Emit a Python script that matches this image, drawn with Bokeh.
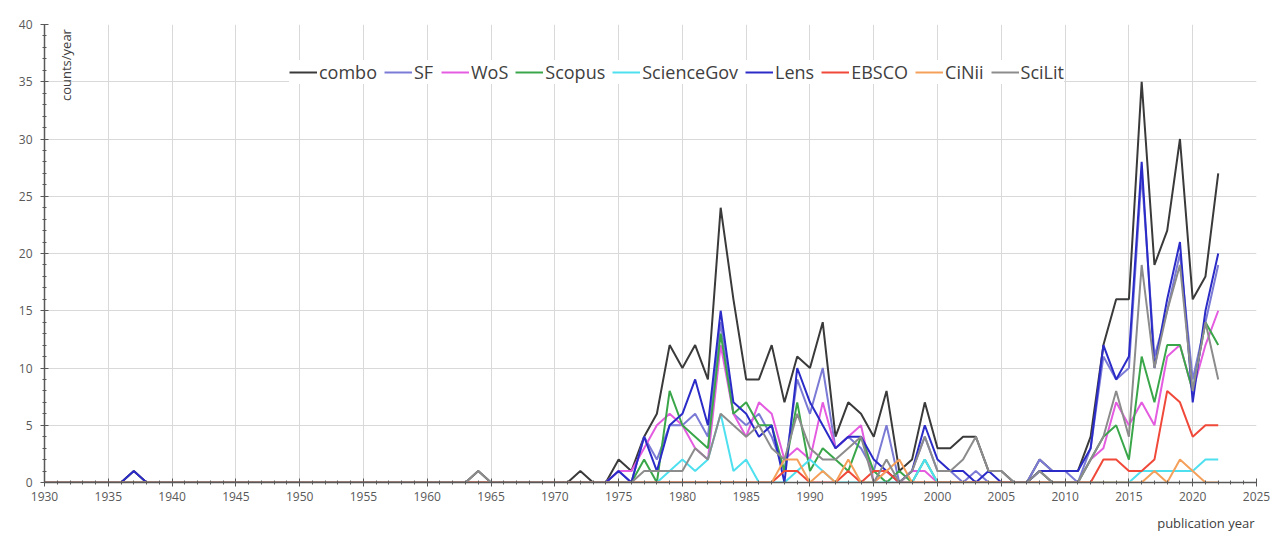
from math import pi
from bokeh.plotting import figure
from bokeh.models import FixedTicker, Label, Title
from bokeh.embed import file_html
from bokeh.resources import INLINE

years = list(range(1930, 2023))

combo = [
    0, 0, 0, 0, 0, 0, 0, 1, 0, 0,
    0, 0, 0, 0, 0, 0, 0, 0, 0, 0,
    0, 0, 0, 0, 0, 0, 0, 0, 0, 0,
    0, 0, 0, 0, 1, 0, 0, 0, 0, 0,
    0, 0, 1, 0, 0, 2, 1, 4, 6, 12,
    10, 12, 9, 24, 16, 9, 9, 12, 7, 11,
    10, 14, 4, 7, 6, 4, 8, 1, 2, 7,
    3, 3, 4, 4, 1, 1, 0, 0, 2, 1,
    1, 1, 4, 12, 16, 16, 35, 19, 22, 30,
    16, 18, 27]

sf = [
    0, 0, 0, 0, 0, 0, 0, 0, 0, 0,
    0, 0, 0, 0, 0, 0, 0, 0, 0, 0,
    0, 0, 0, 0, 0, 0, 0, 0, 0, 0,
    0, 0, 0, 0, 0, 0, 0, 0, 0, 0,
    0, 0, 0, 0, 0, 1, 0, 4, 2, 5,
    5, 6, 4, 14, 6, 5, 6, 4, 1, 9,
    6, 10, 3, 4, 3, 1, 5, 0, 1, 4,
    1, 1, 0, 1, 0, 0, 0, 0, 2, 1,
    1, 0, 3, 11, 9, 10, 27, 11, 15, 20,
    9, 14, 19]

wos = [
    0, 0, 0, 0, 0, 0, 0, 0, 0, 0,
    0, 0, 0, 0, 0, 0, 0, 0, 0, 0,
    0, 0, 0, 0, 0, 0, 0, 0, 0, 0,
    0, 0, 0, 0, 0, 0, 0, 0, 0, 0,
    0, 0, 0, 0, 0, 1, 1, 3, 5, 6,
    5, 3, 2, 12, 6, 4, 7, 6, 2, 3,
    2, 7, 3, 4, 5, 0, 1, 0, 1, 1,
    0, 0, 0, 0, 0, 0, 0, 0, 1, 0,
    0, 0, 2, 3, 7, 5, 7, 5, 11, 12,
    8, 12, 15]

scopus = [
    0, 0, 0, 0, 0, 0, 0, 0, 0, 0,
    0, 0, 0, 0, 0, 0, 0, 0, 0, 0,
    0, 0, 0, 0, 0, 0, 0, 0, 0, 0,
    0, 0, 0, 0, 0, 0, 0, 0, 0, 0,
    0, 0, 0, 0, 0, 0, 0, 2, 0, 8,
    5, 4, 3, 13, 6, 7, 5, 5, 1, 7,
    1, 3, 2, 1, 4, 1, 0, 1, 0, 2,
    0, 0, 0, 0, 0, 0, 0, 0, 1, 0,
    0, 0, 2, 4, 5, 2, 11, 7, 12, 12,
    8, 14, 12]

sciencegov = [
    0, 0, 0, 0, 0, 0, 0, 0, 0, 0,
    0, 0, 0, 0, 0, 0, 0, 0, 0, 0,
    0, 0, 0, 0, 0, 0, 0, 0, 0, 0,
    0, 0, 0, 0, 0, 0, 0, 0, 0, 0,
    0, 0, 0, 0, 0, 0, 0, 0, 0, 1,
    2, 1, 2, 6, 1, 2, 0, 0, 0, 1,
    2, 1, 0, 0, 0, 0, 0, 0, 0, 2,
    0, 0, 0, 0, 0, 0, 0, 0, 0, 0,
    0, 0, 0, 0, 0, 0, 1, 1, 1, 1,
    1, 2, 2]

lens = [
    0, 0, 0, 0, 0, 0, 0, 1, 0, 0,
    0, 0, 0, 0, 0, 0, 0, 0, 0, 0,
    0, 0, 0, 0, 0, 0, 0, 0, 0, 0,
    0, 0, 0, 0, 0, 0, 0, 0, 0, 0,
    0, 0, 0, 0, 0, 1, 0, 4, 1, 5,
    6, 9, 5, 15, 7, 6, 4, 5, 0, 10,
    7, 5, 3, 4, 4, 2, 1, 0, 1, 5,
    2, 1, 1, 0, 1, 0, 0, 0, 1, 1,
    1, 1, 3, 12, 9, 11, 28, 10, 16, 21,
    7, 15, 20]

ebsco = [
    0, 0, 0, 0, 0, 0, 0, 0, 0, 0,
    0, 0, 0, 0, 0, 0, 0, 0, 0, 0,
    0, 0, 0, 0, 0, 0, 0, 0, 0, 0,
    0, 0, 0, 0, 0, 0, 0, 0, 0, 0,
    0, 0, 0, 0, 0, 0, 0, 0, 0, 0,
    0, 0, 0, 0, 0, 0, 0, 0, 1, 1,
    0, 0, 0, 1, 0, 1, 1, 0, 0, 0,
    0, 0, 0, 0, 0, 0, 0, 0, 0, 0,
    0, 0, 0, 2, 2, 1, 1, 2, 8, 7,
    4, 5, 5]

cinii = [
    0, 0, 0, 0, 0, 0, 0, 0, 0, 0,
    0, 0, 0, 0, 0, 0, 0, 0, 0, 0,
    0, 0, 0, 0, 0, 0, 0, 0, 0, 0,
    0, 0, 0, 0, 0, 0, 0, 0, 0, 0,
    0, 0, 0, 0, 0, 0, 0, 0, 0, 0,
    0, 0, 0, 0, 0, 0, 0, 0, 2, 2,
    0, 1, 0, 2, 0, 0, 1, 2, 0, 0,
    0, 0, 0, 0, 0, 0, 0, 0, 0, 0,
    0, 0, 0, 0, 0, 0, 0, 1, 0, 2,
    1, 0, 0]

scilit = [
    0, 0, 0, 0, 0, 0, 0, 0, 0, 0,
    0, 0, 0, 0, 0, 0, 0, 0, 0, 0,
    0, 0, 0, 0, 0, 0, 0, 0, 0, 0,
    0, 0, 0, 0, 1, 0, 0, 0, 0, 0,
    0, 0, 0, 0, 0, 0, 0, 1, 1, 1,
    1, 3, 2, 6, 5, 4, 5, 3, 2, 6,
    3, 2, 2, 3, 4, 0, 2, 0, 1, 4,
    1, 1, 2, 4, 1, 1, 0, 0, 1, 0,
    0, 0, 2, 4, 8, 4, 19, 10, 15, 19,
    8, 14, 9]

series_names = ["combo", "SF", "WoS", "Scopus", "ScienceGov", "Lens", "EBSCO", "CiNii", "SciLit"]
series_values = [combo, sf, wos, scopus, sciencegov, lens, ebsco, cinii, scilit]
series_colors = ["#3a3a3a", "#7b7bd6", "#e45ce0", "#3aa64a", "#4fe0f0",
                 "#2b2bc8", "#f0493a", "#f5a05a", "#8c8c8c"]

x_ticks = list(range(1930, 2026, 5))
x_minor = list(range(1930, 2026))
y_ticks = list(range(0, 41, 5))
y_minor = list(range(0, 41))

FONT = "Open Sans"
AX = "#595959"

p = figure(frame_width=1212, frame_height=458,
           x_range=(1930, 2025), y_range=(0, 40),
           output_backend="svg", toolbar_location=None,
           min_border_left=44, min_border_right=29,
           min_border_top=24, min_border_bottom=77,
           background_fill_color="white", border_fill_color="white")
p.outline_line_color = None

for name, vals, col in zip(series_names, series_values, series_colors):
    p.line(years, vals, line_color=col, line_width=2, legend_label=name)

p.xaxis.ticker = FixedTicker(ticks=x_ticks, minor_ticks=x_minor)
p.yaxis.ticker = FixedTicker(ticks=y_ticks, minor_ticks=y_minor)
for ax in (p.xaxis, p.yaxis):
    ax.axis_line_color = AX
    ax.axis_line_width = 1.5
    ax.major_tick_line_color = AX
    ax.minor_tick_line_color = AX
    ax.major_tick_in = 4
    ax.major_tick_out = 4
    ax.minor_tick_in = 2
    ax.minor_tick_out = 2
    ax.major_label_text_font = FONT
    ax.major_label_text_font_size = "12px"
    ax.major_label_text_color = AX
p.xaxis.major_label_standoff = 5
p.yaxis.major_label_standoff = 8

p.xgrid.grid_line_color = "#d9d9d9"
p.ygrid.grid_line_color = "#d9d9d9"

lg = p.legend[0]
lg.orientation = "horizontal"
lg.location = (245, 398)
lg.padding = 0
lg.margin = 0
lg.spacing = 7
lg.glyph_width = 28
lg.glyph_height = 22
lg.label_height = 22
lg.label_standoff = 2
lg.label_text_font = FONT
lg.label_text_font_size = "18px"
lg.label_text_color = "#404040"
lg.border_line_color = None
lg.background_fill_color = "white"
lg.background_fill_alpha = 1.0

p.add_layout(Label(x=1931.7, y=39.6, text="counts/year", angle=pi / 2,
                   text_align="right", text_baseline="middle",
                   text_font=FONT, text_font_size="13px", text_color="#404040"))
p.add_layout(Title(text="publication year", align="right", offset=2, standoff=16,
                   text_font=FONT, text_font_size="13px", text_font_style="normal",
                   text_color="#404040"), "below")

open("out.html", "w").write(file_html(p, INLINE))
